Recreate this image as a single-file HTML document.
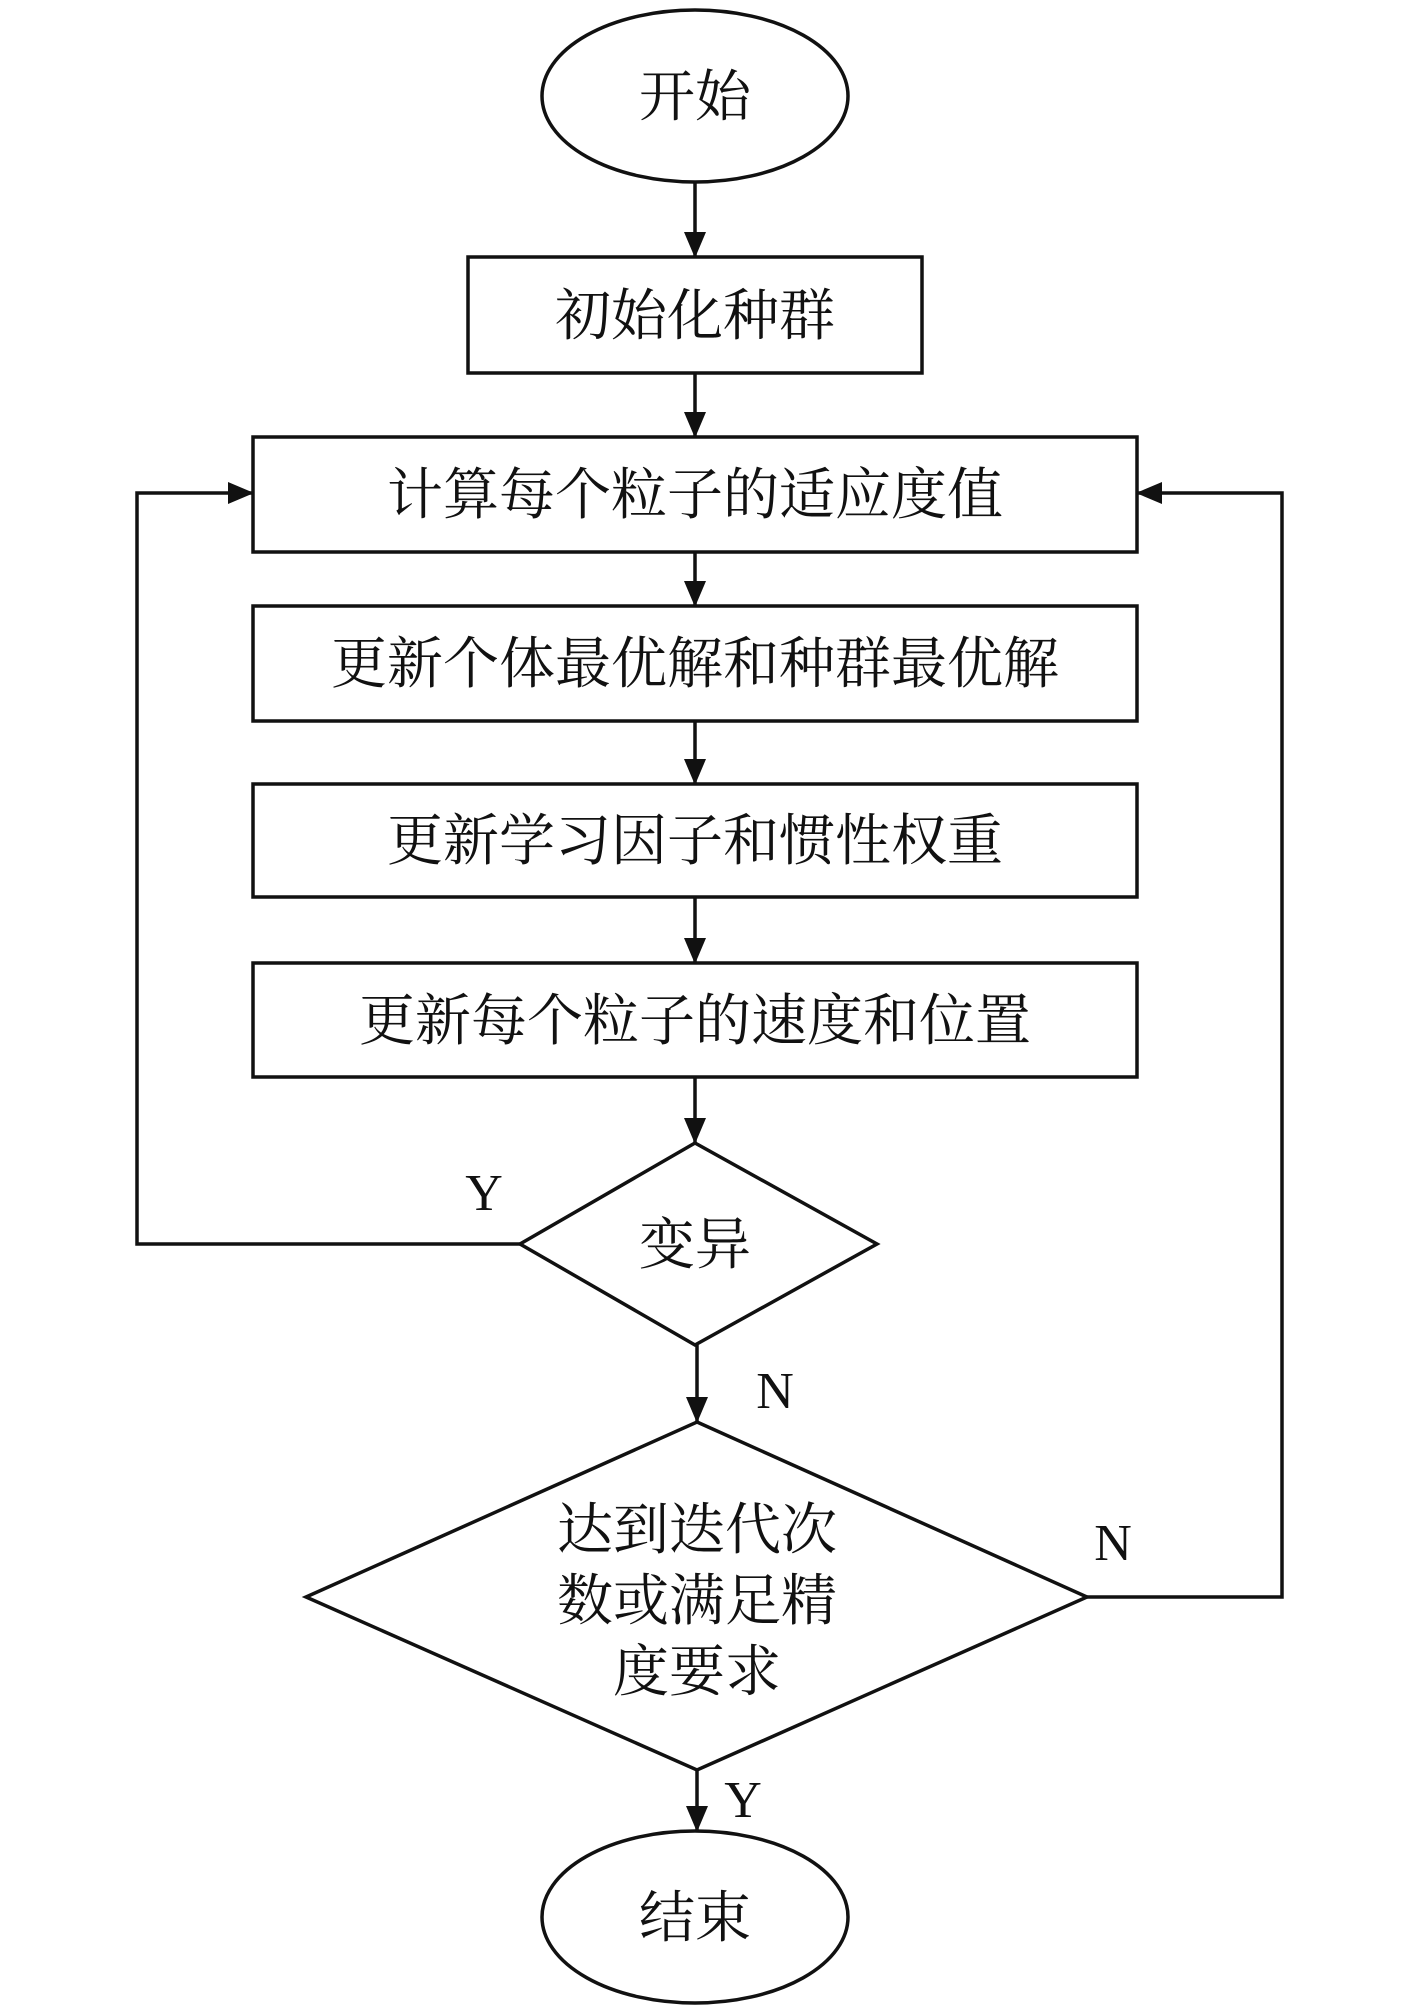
<!DOCTYPE html>
<html><head><meta charset="utf-8"><style>
html,body{margin:0;padding:0;background:#fff;}
svg{display:block;}
text{font-family:"Liberation Serif","Noto Serif CJK SC",serif;fill:#111;}
</style></head><body>
<svg width="1417" height="2008" viewBox="0 0 1417 2008" xmlns="http://www.w3.org/2000/svg">
<defs><marker id="a" markerWidth="10" markerHeight="10" refX="9" refY="5" orient="auto" markerUnits="userSpaceOnUse" viewBox="0 0 10 10"><path d="M0,0 L10,5 L0,10 z" fill="#111"/></marker>
<marker id="b" markerWidth="26" markerHeight="26" refX="25" refY="13" orient="auto" markerUnits="userSpaceOnUse" viewBox="0 0 26 26"><path d="M0,2 L26,13 L0,24 z" fill="#111"/></marker></defs>
<g stroke="#111" stroke-width="3.5" fill="none">
<ellipse cx="695" cy="96" rx="153" ry="86"/>
<rect x="468" y="257" width="454" height="116"/>
<rect x="253" y="437" width="884" height="115"/>
<rect x="253" y="606" width="884" height="115"/>
<rect x="253" y="784" width="884" height="113"/>
<rect x="253" y="963" width="884" height="114"/>
<polygon points="695,1143 877,1244 695,1345 520,1244"/>
<polygon points="697,1422 1087,1597 697,1770 306,1597"/>
<ellipse cx="695" cy="1917" rx="153" ry="86"/>
<line x1="695" y1="182" x2="695" y2="257" marker-end="url(#b)"/>
<line x1="695" y1="373" x2="695" y2="437" marker-end="url(#b)"/>
<line x1="695" y1="552" x2="695" y2="606" marker-end="url(#b)"/>
<line x1="695" y1="721" x2="695" y2="784" marker-end="url(#b)"/>
<line x1="695" y1="897" x2="695" y2="963" marker-end="url(#b)"/>
<line x1="695" y1="1077" x2="695" y2="1143" marker-end="url(#b)"/>
<line x1="697" y1="1345" x2="697" y2="1422" marker-end="url(#b)"/>
<line x1="697" y1="1770" x2="697" y2="1831" marker-end="url(#b)"/>
<polyline points="520,1244 137,1244 137,493 253,493" marker-end="url(#b)"/>
<polyline points="1087,1597 1282,1597 1282,493 1137,493" marker-end="url(#b)"/>
</g>
<g font-size="56" text-anchor="middle">
<text x="695" y="116">开始</text>
<text x="695" y="335">初始化种群</text>
<text x="695" y="514">计算每个粒子的适应度值</text>
<text x="695" y="683">更新个体最优解和种群最优解</text>
<text x="695" y="860">更新学习因子和惯性权重</text>
<text x="695" y="1040">更新每个粒子的速度和位置</text>
<text x="695" y="1264">变异</text>
<text x="697" y="1549">达到迭代次</text>
<text x="697" y="1620">数或满足精</text>
<text x="697" y="1691">度要求</text>
<text x="695" y="1937">结束</text>
</g>
<g font-size="52" text-anchor="middle">
<text x="484" y="1210">Y</text>
<text x="775" y="1408">N</text>
<text x="1113" y="1560">N</text>
<text x="743" y="1817">Y</text>
</g>
</svg>
</body></html>
